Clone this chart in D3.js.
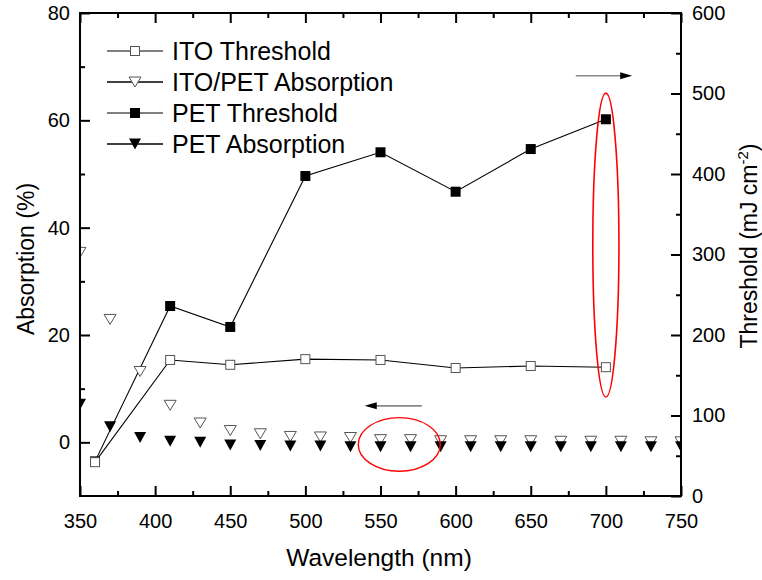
<!DOCTYPE html>
<html>
<head>
<meta charset="utf-8">
<script src="https://cdn.jsdelivr.net/npm/d3@7"></script>
<style>
  html, body { margin: 0; padding: 0; background: #fff; }
  svg { display: block; font-family: "Liberation Sans", Arial, sans-serif; }
</style>
</head>
<body>
<svg id="chart" width="762" height="580"></svg>
<script>
// ---------------- data ----------------
const thresholdWavelengths = [360, 410, 450, 500, 550, 600, 650, 700];
const itoThreshold = [42, 169, 163, 170, 169, 159, 161.5, 160];
const petThreshold = [43, 236, 210, 397.5, 427, 378, 431, 468];

const absorptionWavelengths = [350, 370, 390, 410, 430, 450, 470, 490, 510, 530, 550,
                               570, 590, 610, 630, 650, 670, 690, 710, 730, 750];
const itoPetAbsorption = [35.4, 22.9, 13.2, 6.9, 3.6, 2.2, 1.6, 1.1, 1.0, 0.9, 0.5,
                          0.5, 0.3, 0.3, 0.3, 0.3, 0.2, 0.2, 0.2, 0.1, 0.1];
const petAbsorption = [7.1, 2.9, 0.9, 0.2, 0.0, -0.5, -0.6, -0.7, -0.7, -0.8, -0.8,
                       -0.8, -0.8, -0.8, -0.8, -0.8, -0.8, -0.8, -0.8, -0.8, -0.8];

const xTicks = [350, 400, 450, 500, 550, 600, 650, 700, 750];
const xMinorTicks = [375, 425, 475, 525, 575, 625, 675, 725];
const leftTicks = [0, 20, 40, 60, 80];
const leftMinorTicks = [10, 30, 50, 70];
const rightTicks = [0, 100, 200, 300, 400, 500, 600];
const rightMinorTicks = [50, 150, 250, 350, 450, 550];

const legendLabels = ["ITO Threshold", "ITO/PET Absorption", "PET Threshold", "PET Absorption"];

// annotations in data coordinates
const arrowRight = { x1: 680, x2: 717.5, yLeft: 68.3 };
const arrowLeft = { x1: 577.5, x2: 539.5, yLeft: 6.8 };
const ellipseThreshold = { x: 700, yTop: 500.5, yBottom: 123, halfWidthNm: 8.7 };
const ellipseAbsorption = { x: 562.5, yLeft: -0.4, halfWidthNm: 27.3, halfHeight: 5.0 };

// ---------------- layout ----------------
const svg = d3.select("#chart");
const X0 = 80, X1 = 681, Y0 = 13, Y1 = 496;
const x = d3.scaleLinear().domain([350, 750]).range([X0, X1]);
const yL = d3.scaleLinear().domain([-10, 80]).range([Y1, Y0]);
const yR = d3.scaleLinear().domain([0, 600]).range([Y1, Y0]);

const tickFont = 20;

function styleAxis(g) {
  g.select(".domain").remove();
  g.selectAll(".tick line").attr("stroke", "#000").attr("stroke-width", 2);
  g.selectAll(".tick text").attr("font-size", tickFont).attr("fill", "#000")
    .attr("font-family", "Liberation Sans, Arial, sans-serif");
}

// bottom
svg.append("g").attr("transform", `translate(0,${Y1})`)
  .call(d3.axisBottom(x).tickValues(xTicks).tickSize(-10).tickPadding(18).tickFormat(d3.format("d")))
  .call(styleAxis);
svg.append("g").attr("transform", `translate(0,${Y1})`)
  .call(d3.axisBottom(x).tickValues(xMinorTicks).tickSize(-5).tickFormat(""))
  .call(styleAxis);
// top
svg.append("g").attr("transform", `translate(0,${Y0})`)
  .call(d3.axisTop(x).tickValues(xTicks).tickSize(-10).tickFormat(""))
  .call(styleAxis);
svg.append("g").attr("transform", `translate(0,${Y0})`)
  .call(d3.axisTop(x).tickValues(xMinorTicks).tickSize(-5).tickFormat(""))
  .call(styleAxis);
// left
svg.append("g").attr("transform", `translate(${X0},0)`)
  .call(d3.axisLeft(yL).tickValues(leftTicks).tickSize(-10).tickPadding(10).tickFormat(d3.format("d")))
  .call(styleAxis);
svg.append("g").attr("transform", `translate(${X0},0)`)
  .call(d3.axisLeft(yL).tickValues(leftMinorTicks).tickSize(-5).tickFormat(""))
  .call(styleAxis);
// right
svg.append("g").attr("transform", `translate(${X1},0)`)
  .call(d3.axisRight(yR).tickValues(rightTicks).tickSize(-10).tickPadding(11).tickFormat(d3.format("d")))
  .call(styleAxis);
svg.append("g").attr("transform", `translate(${X1},0)`)
  .call(d3.axisRight(yR).tickValues(rightMinorTicks).tickSize(-5).tickFormat(""))
  .call(styleAxis);

// clip
svg.append("defs").append("clipPath").attr("id", "plotClip")
  .append("rect").attr("x", X0).attr("y", Y0).attr("width", X1 - X0).attr("height", Y1 - Y0);

const plot = svg.append("g").attr("clip-path", "url(#plotClip)");

// marker helpers
function downTri(cx, cy, w, h) {
  return `M${cx - w / 2},${cy - h / 2}L${cx + w / 2},${cy - h / 2}L${cx},${cy + h / 2}Z`;
}

// lines (threshold series, right axis)
const thrLine = (vals) => d3.line()
  .x((d, i) => x(thresholdWavelengths[i]))
  .y((d) => yR(d))(vals);

plot.append("path").attr("d", thrLine(petThreshold))
  .attr("fill", "none").attr("stroke", "#000").attr("stroke-width", 1.1);
plot.append("path").attr("d", thrLine(itoThreshold))
  .attr("fill", "none").attr("stroke", "#000").attr("stroke-width", 1.1);

// ITO/PET absorption (open down triangles)
plot.selectAll(".itoPetAbs").data(itoPetAbsorption).enter().append("path")
  .attr("d", (d, i) => downTri(x(absorptionWavelengths[i]), yL(d), 12, 10))
  .attr("fill", "#fff").attr("stroke", "#555").attr("stroke-width", 1);

// PET absorption (filled down triangles)
plot.selectAll(".petAbs").data(petAbsorption).enter().append("path")
  .attr("d", (d, i) => downTri(x(absorptionWavelengths[i]), yL(d), 12, 11))
  .attr("fill", "#000");

// PET threshold (filled squares)
plot.selectAll(".petThr").data(petThreshold).enter().append("rect")
  .attr("x", (d, i) => x(thresholdWavelengths[i]) - 5)
  .attr("y", (d) => yR(d) - 5)
  .attr("width", 10).attr("height", 10).attr("fill", "#000");

// ITO threshold (open squares)
plot.selectAll(".itoThr").data(itoThreshold).enter().append("rect")
  .attr("x", (d, i) => x(thresholdWavelengths[i]) - 4.5)
  .attr("y", (d) => yR(d) - 4.5)
  .attr("width", 9).attr("height", 9)
  .attr("fill", "#fff").attr("stroke", "#555").attr("stroke-width", 1);

// frame
svg.append("rect").attr("x", X0).attr("y", Y0).attr("width", X1 - X0).attr("height", Y1 - Y0)
  .attr("fill", "none").attr("stroke", "#000").attr("stroke-width", 2);

// annotations: ellipses
const e1 = ellipseThreshold;
svg.append("ellipse")
  .attr("cx", x(e1.x))
  .attr("cy", (yR(e1.yTop) + yR(e1.yBottom)) / 2)
  .attr("rx", x(e1.x + e1.halfWidthNm) - x(e1.x))
  .attr("ry", (yR(e1.yBottom) - yR(e1.yTop)) / 2)
  .attr("fill", "none").attr("stroke", "#f00").attr("stroke-width", 1.6);
const e2 = ellipseAbsorption;
svg.append("ellipse")
  .attr("cx", x(e2.x))
  .attr("cy", yL(e2.yLeft))
  .attr("rx", x(e2.x + e2.halfWidthNm) - x(e2.x))
  .attr("ry", yL(0) - yL(e2.halfHeight))
  .attr("fill", "none").attr("stroke", "#f00").attr("stroke-width", 1.4);

// arrows
function arrow(a) {
  const xs = x(a.x1), xe = x(a.x2), yy = yL(a.yLeft);
  const dir = Math.sign(xe - xs);
  const headLen = 12, headHalf = 3.5;
  svg.append("line").attr("x1", xs).attr("x2", xe - dir * headLen + dir * 1)
    .attr("y1", yy).attr("y2", yy).attr("stroke", "#888").attr("stroke-width", 1.6);
  svg.append("path")
    .attr("d", `M${xe},${yy}L${xe - dir * headLen},${yy - headHalf}L${xe - dir * headLen},${yy + headHalf}Z`)
    .attr("fill", "#000");
}
arrow(arrowRight);
arrow(arrowLeft);

// legend
const legRows = [51, 82, 113, 144];
const leg = svg.append("g");
legendLabels.forEach((lab, i) => {
  const ry = legRows[i];
  leg.append("line").attr("x1", 107).attr("x2", 163).attr("y1", ry).attr("y2", ry)
    .attr("stroke", "#000").attr("stroke-width", i % 2 === 1 ? 1.5 : 1.1);
  const cx = 135;
  if (i === 0) {
    leg.append("rect").attr("x", cx - 4.5).attr("y", ry - 4.5).attr("width", 9).attr("height", 9)
      .attr("fill", "#fff").attr("stroke", "#555");
  } else if (i === 1) {
    leg.append("path").attr("d", downTri(cx, ry, 12, 10)).attr("fill", "#fff").attr("stroke", "#555");
  } else if (i === 2) {
    leg.append("rect").attr("x", cx - 5).attr("y", ry - 5).attr("width", 10).attr("height", 10).attr("fill", "#000");
  } else {
    leg.append("path").attr("d", downTri(cx, ry, 12, 11)).attr("fill", "#000");
  }
  leg.append("text").attr("x", 172).attr("y", ry + 9).attr("font-size", 25).attr("fill", "#000").text(lab);
});

// axis titles
svg.append("text").attr("x", 379).attr("y", 566).attr("text-anchor", "middle")
  .attr("font-size", 24.5).attr("fill", "#000").text("Wavelength (nm)");

svg.append("text").attr("transform", "translate(34,259) rotate(-90)").attr("text-anchor", "middle")
  .attr("font-size", 23).attr("fill", "#000").text("Absorption (%)");

const rt = svg.append("text").attr("transform", "translate(757,246) rotate(-90)").attr("text-anchor", "middle")
  .attr("font-size", 23).attr("fill", "#000");
rt.append("tspan").text("Threshold (mJ cm");
rt.append("tspan").attr("font-size", 15).attr("dy", -9).text("-2");
rt.append("tspan").attr("dy", 9).text(")");
</script>
</body>
</html>
